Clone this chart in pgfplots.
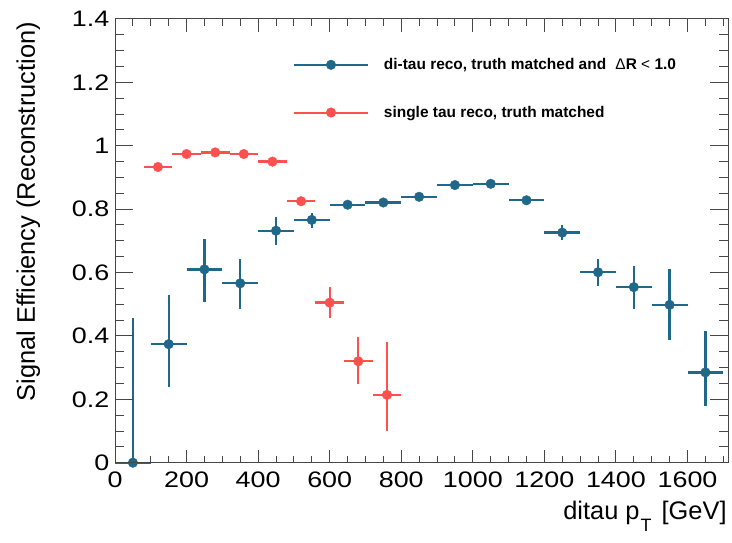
\documentclass[border=0pt]{standalone}
\usepackage{fontspec}
\setmainfont{Liberation Sans}
\newfontfamily\tickfont[FakeStretch=1.2]{Liberation Sans}
\usepackage{pgfplots}
\pgfplotsset{compat=1.18}
\usepackage{pgfplotstable}
\definecolor{tblue}{RGB}{31,104,138}
\definecolor{tred}{RGB}{255,80,80}
\definecolor{axgray}{RGB}{70,70,70}

\pgfplotstableread{
x y ex eyp eym
50 0.000 50 0.455 0.000
150 0.374 50 0.155 0.136
250 0.610 50 0.097 0.104
350 0.566 50 0.077 0.080
450 0.732 50 0.042 0.044
550 0.766 50 0.023 0.026
650 0.814 50 0.008 0.008
750 0.821 50 0.008 0.008
850 0.839 50 0.006 0.006
950 0.876 50 0.006 0.006
1050 0.880 50 0.006 0.006
1150 0.828 50 0.008 0.008
1250 0.726 50 0.023 0.023
1350 0.601 50 0.042 0.044
1450 0.554 50 0.067 0.070
1550 0.498 50 0.114 0.112
1650 0.285 50 0.130 0.105
}\ditau

\pgfplotstableread{
x y ex eyp eym
120 0.933 40 0.005 0.005
200 0.974 40 0.004 0.004
280 0.979 40 0.004 0.004
360 0.974 40 0.004 0.004
440 0.950 40 0.006 0.006
520 0.825 40 0.012 0.016
600 0.505 40 0.050 0.048
680 0.320 40 0.076 0.071
760 0.214 40 0.166 0.113
}\single

\begin{document}
\begin{tikzpicture}
\path[use as bounding box] (0,0) rectangle (732bp,543bp);
% main axis: data, x ticks, labels, legend
\begin{axis}[
  at={(115bp,80.3bp)}, anchor=south west,
  scale only axis, width=613.3bp, height=443.7bp,
  xmin=0, xmax=1714, ymin=0, ymax=1.4,
  xtick distance=200, minor x tick num=3,
  ytick=\empty,
  major tick length=13bp, minor tick length=7bp,
  tick align=inside,
  axis line style={axgray, line width=1bp},
  tick style={axgray, line width=1bp},
  /pgf/number format/assume math mode=true,
  /pgf/number format/1000 sep={},
  xticklabel style={font=\tickfont\fontsize{22.5}{22.5}\selectfont, inner sep=0pt, yshift=-8.5bp, anchor=north},
  clip=false,
  xlabel={ditau p\hspace{1bp}\raisebox{-12bp}{\fontsize{18}{18}\selectfont T}\hspace{3bp} [GeV]},
  xlabel style={at={([xshift=-1.5bp,yshift=-56.5bp]rel axis cs:1,0)}, anchor=base east, inner sep=0pt, font=\fontsize{25.5}{25.5}\selectfont},
  ylabel={Signal Efficiency (Reconstruction)},
  ylabel style={at={([xshift=-80bp,yshift=-3bp]rel axis cs:0,1)}, anchor=base east, inner sep=0pt, font=\fontsize{25.5}{25.5}\selectfont},
  legend style={at={(rel axis cs:0.2902,0.911)}, anchor=north west, draw=none, fill=none, inner sep=0pt, outer sep=0pt, row sep=35bp, column sep=15bp, nodes={inner sep=0pt}, font=\bfseries\fontsize{15.5}{15.5}\selectfont},
  legend cell align=left,
]
\addplot[tblue, only marks, mark=*, mark size=4.8bp,
  legend image code/.code={\draw[tblue, line width=2bp] (0bp,0bp) -- (74bp,0bp); \fill[tblue] (37bp,0bp) circle[radius=4.8bp];},
  error bars/.cd, x dir=both, x explicit, y dir=both, y explicit, error mark=none,
  error bar style={line width=2.3bp, tblue}]
  table[x=x, y=y, x error=ex, y error plus=eyp, y error minus=eym]{\ditau};
\addlegendentry{di-tau reco, truth matched and\hspace{0.6em}{\mdseries Δ}R {\mdseries <} 1.0}
\addplot[tred, only marks, mark=*, mark size=4.8bp,
  legend image code/.code={\draw[tred, line width=2bp] (0bp,0bp) -- (74bp,0bp); \fill[tred] (37bp,0bp) circle[radius=4.8bp];},
  error bars/.cd, x dir=both, x explicit, y dir=both, y explicit, error mark=none,
  error bar style={line width=2.3bp, tred}]
  table[x=x, y=y, x error=ex, y error plus=eyp, y error minus=eym]{\single};
\addlegendentry{single tau reco, truth matched}
\end{axis}
% overlay axis: y ticks and labels
\begin{axis}[
  at={(115bp,80.3bp)}, anchor=south west,
  scale only axis, width=613.3bp, height=443.7bp,
  xmin=0, xmax=1714, ymin=0, ymax=1.4,
  xtick=\empty,
  ytick distance=0.2, minor y tick num=3,
  major tick length=18bp, minor tick length=9bp,
  tick align=inside,
  axis line style={axgray, line width=1bp},
  tick style={axgray, line width=1bp},
  /pgf/number format/assume math mode=true,
  yticklabel style={font=\tickfont\fontsize{22.5}{22.5}\selectfont, inner sep=0pt, xshift=-5.5bp, anchor=east},
]
\end{axis}
\end{tikzpicture}
\end{document}
